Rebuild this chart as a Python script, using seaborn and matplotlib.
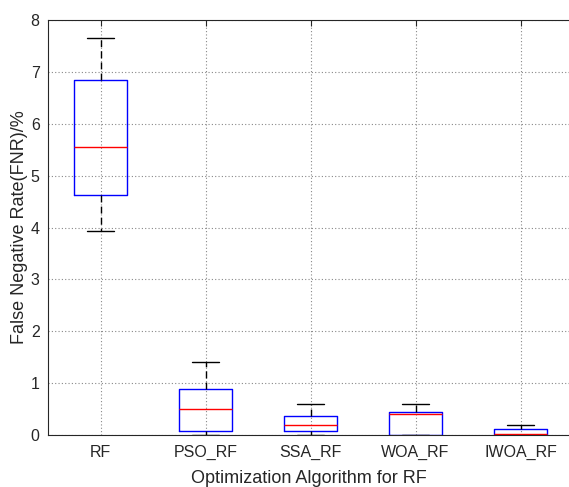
import numpy as np
import pandas as pd
import matplotlib
matplotlib.use("Agg")
import matplotlib.pyplot as plt
import seaborn as sns

# Five-number summaries (min, Q1, median, Q3, max) per algorithm
categories = ["RF", "PSO_RF", "SSA_RF", "WOA_RF", "IWOA_RF"]
rf_vals = [3.93, 4.62, 5.55, 6.84, 7.66]
pso_vals = [0.00, 0.08, 0.50, 0.88, 1.41]
ssa_vals = [0.00, 0.08, 0.20, 0.37, 0.60]
woa_vals = [0.00, 0.00, 0.40, 0.44, 0.60]
iwoa_vals = [0.00, 0.00, 0.01, 0.12, 0.20]
yticks = [0, 1, 2, 3, 4, 5, 6, 7, 8]

series = [rf_vals, pso_vals, ssa_vals, woa_vals, iwoa_vals]
df = pd.DataFrame({
    "algo": np.repeat(categories, [len(s) for s in series]),
    "fnr": np.concatenate(series),
})

sns.set_style("white")
plt.rcParams["font.family"] = ["Liberation Sans", "DejaVu Sans"]

fig = plt.figure(figsize=(5.69, 4.87), dpi=100)
ax = fig.add_axes([48 / 569, 52 / 487, 521 / 569, 415 / 487])

sns.boxplot(
    data=df, x="algo", y="fnr", order=categories, ax=ax,
    whis=np.inf, width=0.5, fill=False, linecolor="black",
    boxprops=dict(color="#0000ff", linewidth=1.0),
    medianprops=dict(color="#ff0000", linewidth=1.0),
    whiskerprops=dict(color="black", linestyle=(0, (5, 3)), linewidth=1.0),
    capprops=dict(color="black", linewidth=1.0),
    showfliers=False,
)

ax.set_xlim(-0.5, 4.5 - 4 / 105)
ax.set_ylim(0, 8)
ax.set_yticks(yticks)
ax.set_yticklabels([str(t) for t in yticks])
ax.grid(True, linestyle=(0, (1, 2)), color="#888888", linewidth=0.8)
ax.set_axisbelow(True)
ax.tick_params(direction="in", length=4, labelsize=11.5, colors="#262626",
               labelcolor="#262626", top=True, right=False)
ax.tick_params(axis="x", pad=7)
ax.tick_params(axis="y", pad=6)
for name, s in ax.spines.items():
    s.set_color("#262626")
    s.set_linewidth(0.8)
ax.spines["right"].set_visible(False)
ax.set_xlabel("Optimization Algorithm for RF", fontsize=13, color="#262626", labelpad=7)
ax.set_ylabel("False Negative Rate(FNR)/%", fontsize=13, color="#262626", labelpad=2)

fig.savefig("out.png", dpi=100)
